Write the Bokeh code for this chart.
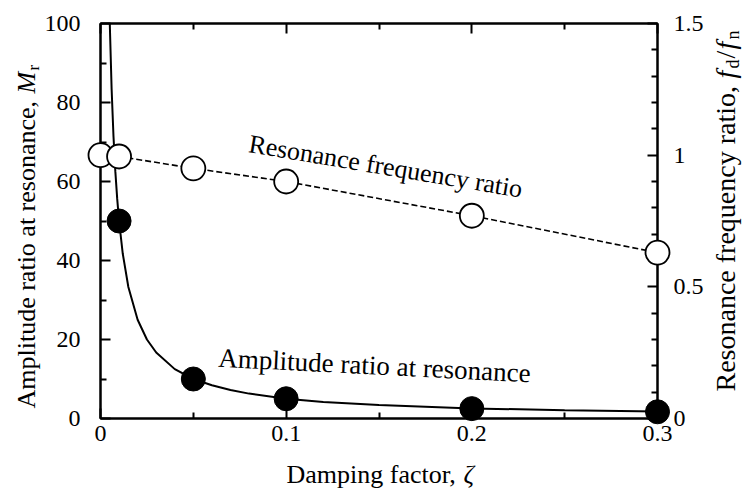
import math
from bokeh.plotting import figure
from bokeh.models import (Range1d, LinearAxis, FixedTicker, CustomJSTickFormatter, Label)
from bokeh.core.properties import value
from bokeh.embed import file_html
from bokeh.resources import INLINE

# ---- data ----
zeta_amp = [0.01, 0.05, 0.1, 0.2, 0.3]
amp_ratio = [50, 10, 5, 2.5, 1.7]

zeta_freq = [0, 0.01, 0.05, 0.1, 0.2, 0.3]
freq_ratio = [1.0, 0.995, 0.95, 0.9, 0.77, 0.63]

curve_zeta = [0.005, 0.006, 0.007, 0.008, 0.009, 0.01, 0.012, 0.015, 0.02, 0.025,
              0.03, 0.04, 0.05, 0.06, 0.07, 0.08, 0.1, 0.12, 0.15, 0.2, 0.25, 0.3]
curve_amp = [100, 83.3, 71.4, 62.5, 55.6, 50, 41.7, 33.3, 25, 20,
             16.7, 12.5, 10, 8.4, 7.2, 6.3, 5.0, 4.2, 3.4, 2.55, 2.1, 1.75]

x_ticks = [0, 0.1, 0.2, 0.3]
x_minor = [0.05, 0.15, 0.25]
left_ticks = [0, 20, 40, 60, 80, 100]
left_minor = [10, 30, 50, 70, 90]
right_ticks = [0, 0.5, 1, 1.5]
right_minor = [0.1, 0.2, 0.3, 0.4, 0.6, 0.7, 0.8, 0.9, 1.1, 1.2, 1.3, 1.4]

FONT = "Liberation Serif"

p = figure(width=742, height=493, x_range=Range1d(0, 0.3), y_range=Range1d(0, 100),
           output_backend="svg", toolbar_location=None,
           min_border_left=100, min_border_right=85, min_border_top=23, min_border_bottom=75,
           background_fill_color="white", border_fill_color="white")
p.grid.visible = False
p.outline_line_color = "black"
p.outline_line_width = 2
p.extra_y_ranges = {"freq": Range1d(0, 1.5)}

fmt_code = "return String(Math.round(tick*1000)/1000);"


def style(ax, ticks, minor, standoff, labels=True):
    ax.ticker = FixedTicker(ticks=ticks, minor_ticks=minor)
    if labels:
        ax.formatter = CustomJSTickFormatter(code=fmt_code)
        ax.major_label_text_font_size = "24px"
    else:
        ax.formatter = CustomJSTickFormatter(code="return '';")
        ax.major_label_text_font_size = "1px"
    ax.axis_line_color = "black"
    ax.axis_line_width = 2
    ax.major_tick_in = 10
    ax.major_tick_out = 0
    ax.minor_tick_in = 6
    ax.minor_tick_out = 0
    ax.major_tick_line_width = 2
    ax.minor_tick_line_width = 2
    ax.major_tick_line_color = "black"
    ax.minor_tick_line_color = "black"
    ax.major_label_text_font = FONT
    ax.major_label_text_color = "black"
    ax.major_label_standoff = standoff
    ax.axis_label = None


style(p.xaxis[0], x_ticks, x_minor, 7)
style(p.yaxis[0], left_ticks, left_minor, 20)

right_axis = LinearAxis(y_range_name="freq")
style(right_axis, right_ticks, right_minor, 16)
p.add_layout(right_axis, "right")

top_axis = LinearAxis()
style(top_axis, x_ticks, x_minor, 0, labels=False)
p.add_layout(top_axis, "above")

# ---- glyphs ----
p.line(curve_zeta, curve_amp, line_color="black", line_width=2)
p.line(zeta_freq, freq_ratio, y_range_name="freq", line_color="black",
       line_width=1.6, line_dash="6 3")

r_amp = p.scatter(zeta_amp, amp_ratio, size=24, fill_color="black", line_color="black")
r_amp.level = "overlay"
r_freq = p.scatter(zeta_freq, freq_ratio, y_range_name="freq", size=24,
                   fill_color="white", line_color="black", line_width=1.8)
r_freq.level = "overlay"

# ---- in-plot annotations ----
p.add_layout(Label(x=0.080, y=69.6, text="Resonance frequency ratio", angle=-0.166,
                   text_font=FONT, text_font_size="26px", text_color="black",
                   text_baseline="alphabetic", text_align="left"))
p.add_layout(Label(x=0.0635, y=15.4, text="Amplitude ratio at resonance", angle=-0.05,
                   text_font=FONT, text_font_size="27px", text_color="black",
                   text_baseline="alphabetic", text_align="left"))

# ---- axis titles: text glyphs anchored at frame centre, shifted by pixel offsets ----
CX, CY = 378.5, 220.5  # canvas position of (0.15, 50)


def ttext(s, cx, cy, angle=0.0, size="26px", fstyle="normal"):
    r = p.text(x=[0.15], y=[50], text=[s], x_offset=cx - CX, y_offset=cy - CY,
               angle=angle, text_font=value(FONT), text_font_size=value(size),
               text_font_style=value(fstyle), text_color="black",
               text_align="left", text_baseline="alphabetic")
    r.level = "overlay"


# bottom
ttext("Damping factor, ", 286, 474)
ttext("ζ", 463, 474, fstyle="italic")

# left (rotated)
A = math.pi / 2
ttext("Amplitude ratio at resonance, ", 26, 408, angle=A)
ttext("M", 26, 93, angle=A, fstyle="italic")
ttext("r", 33, 70, angle=A, size="17px")

# right (rotated)
ttext("Resonance frequency ratio, ", 725, 391, angle=A, size="28px")
ttext("f", 725, 78, angle=A, size="28px", fstyle="italic")
ttext("d", 732, 68, angle=A, size="18px")
ttext("/", 725, 58, angle=A, size="28px")
ttext("f", 725, 49, angle=A, size="28px", fstyle="italic")
ttext("n", 732, 39, angle=A, size="18px")

open("out.html", "w").write(file_html(p, INLINE))
